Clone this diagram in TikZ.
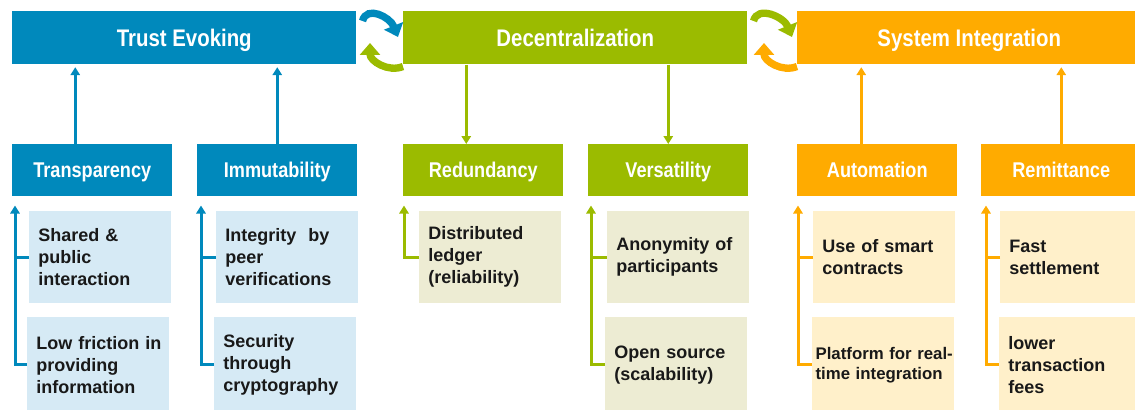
\documentclass[tikz,border=0pt]{standalone}
\usepackage{fontspec}
\setmainfont{Liberation Sans}
\newfontfamily\headfont[FakeStretch=0.85]{Liberation Sans}
\usetikzlibrary{arrows.meta}
\definecolor{teblue}{RGB}{0,137,188}
\definecolor{teback}{RGB}{214,234,245}
\definecolor{dcgreen}{RGB}{155,187,0}
\definecolor{dcback}{RGB}{237,236,211}
\definecolor{siorange}{RGB}{255,171,0}
\definecolor{siback}{RGB}{255,240,202}

\begin{document}
\begin{tikzpicture}[x=0.75pt,y=-0.75pt,
  top/.style={anchor=north west,minimum width=258pt,minimum height=39.75pt,inner sep=0pt,text height=12.9pt,text depth=0pt,text=white,font=\headfont\bfseries\fontsize{18}{20}\selectfont},
  sub/.style={anchor=north west,minimum width=120pt,minimum height=39pt,inner sep=0pt,text height=11.5pt,text depth=0pt,text=white,font=\headfont\bfseries\fontsize{16}{18}\selectfont},
  item/.style={anchor=north west,text width=93pt,inner xsep=6.75pt,inner ysep=0pt,minimum height=69pt,align=left,text=black!90,font=\bfseries\fontsize{13.5}{16.5}\selectfont},
  link/.style={draw=#1,line width=2.25pt,-{Triangle[width=7pt,length=6pt]}},
  stub/.style={draw=#1,line width=2.25pt},
  cyclearrow/.style={draw=#1,line width=5.5pt,-{Triangle[width=15pt,length=9pt]}}]
\useasboundingbox (0,0) rectangle (1135,410);
% top row
\node[top,fill=teblue] (te) at (12,11) {Trust Evoking};
\node[top,fill=dcgreen] (dc) at (403,11) {Decentralization};
\node[top,fill=siorange] (si) at (797,11) {System Integration};
% second row
\node[sub,fill=teblue] (tr) at (12,144) {Transparency};
\node[sub,fill=teblue] (im) at (197,144) {Immutability};
\node[sub,fill=dcgreen] (rd) at (403,144) {Redundancy};
\node[sub,fill=dcgreen] (vs) at (588,144) {Versatility};
\node[sub,fill=siorange] (au) at (797,144) {Automation};
\node[sub,fill=siorange] (rm) at (981,144) {Remittance};
% items
\node[item,fill=teback] (sh) at (29,211) {\mbox{Shared \&}\\public\\interaction};
\node[item,fill=teback,minimum height=71.25pt] (lf) at (27,317) {\mbox{Low friction in}\\providing\\information};
\node[item,fill=teback] (ip) at (216,211) {\mbox{Integrity~ by}\\peer\\verifications};
\node[item,fill=teback,minimum height=71.25pt] (sc) at (214,317) {Security\\through\\cryptography};
\node[item,fill=dcback] (dl) at (419,211) {Distributed\\ledger\\(reliability)};
\node[item,fill=dcback] (an) at (607,211) {\mbox{Anonymity of}\\participants};
\node[item,fill=dcback,minimum height=71.25pt] (os) at (605,317) {\mbox{Open source}\\(scalability)};
\node[item,fill=siback] (us) at (813,211) {\mbox{Use of smart}\\contracts};
\node[item,fill=siback,minimum height=71.25pt,text width=101.5pt,inner xsep=2.5pt,font=\bfseries\fontsize{12.6}{15}\selectfont] (pf) at (812,317) {\mbox{Platform for real-}\\\mbox{time integration}};
\node[item,fill=siback] (fs) at (1000,211) {Fast\\settlement};
\node[item,fill=siback,minimum height=71.25pt] (lt) at (999,317) {lower\\transaction\\fees};
% row links
\draw[link=teblue,shorten >=2pt] ([shift={(-17,0)}]tr.north) -- ([shift={(-17,0)}]tr.north |- te.south);
\draw[link=teblue,shorten >=2pt] (im.north) -- (im.north |- te.south);
\draw[link=dcgreen] ([shift={(-17,0)}]rd.north |- dc.south) -- ([shift={(-17,0)}]rd.north);
\draw[link=dcgreen] (vs.north |- dc.south) -- (vs.north);
\draw[link=siorange,shorten >=2pt] ([shift={(-16,0)}]au.north) -- ([shift={(-16,0)}]au.north |- si.south);
\draw[link=siorange,shorten >=2pt] (rm.north) -- (rm.north |- si.south);
% brackets
\draw[link=teblue] (lf.west) -| ([shift={(3,9)}]tr.south west);
\draw[stub=teblue] (sh.west) -- ([shift={(3,0)}]sh.west -| tr.south west);
\draw[link=teblue] (sc.west) -| ([shift={(4,9)}]im.south west);
\draw[stub=teblue] (ip.west) -- ([shift={(4,0)}]ip.west -| im.south west);
\draw[link=dcgreen] (dl.west) -| ([shift={(1,9)}]rd.south west);
\draw[link=dcgreen] (os.west) -| ([shift={(3,9)}]vs.south west);
\draw[stub=dcgreen] (an.west) -- ([shift={(3,0)}]an.west -| vs.south west);
\draw[link=siorange] (pf.west) -| ([shift={(1,9)}]au.south west);
\draw[stub=siorange] (us.west) -- ([shift={(1,0)}]us.west -| au.south west);
\draw[link=siorange] (lt.west) -| ([shift={(5,9)}]rm.south west);
\draw[stub=siorange] (fs.west) -- ([shift={(5,0)}]fs.west -| rm.south west);
% cycle arrows
\draw[cyclearrow=teblue] ([shift={(6,10)}]te.north east) .. controls +(4,-16) and +(-8,-20) .. ([shift={(-5,26)}]dc.north west);
\draw[cyclearrow=dcgreen] ([shift={(0,2)}]dc.south west) .. controls +(-15,6) and +(0,18) .. ([shift={(-33,32)}]dc.north west);
\draw[cyclearrow=dcgreen] ([shift={(6,10)}]dc.north east) .. controls +(4,-16) and +(-8,-20) .. ([shift={(-5,26)}]si.north west);
\draw[cyclearrow=siorange] ([shift={(0,2)}]si.south west) .. controls +(-15,6) and +(0,18) .. ([shift={(-33,32)}]si.north west);
\end{tikzpicture}
\end{document}
